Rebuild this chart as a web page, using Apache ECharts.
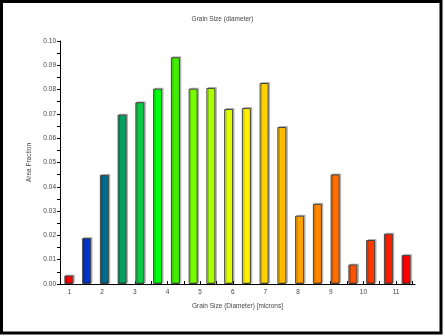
<!DOCTYPE html>
<html>
<head>
<meta charset="utf-8">
<script src="https://cdn.jsdelivr.net/npm/echarts@6/dist/echarts.min.js"></script>
<style>
html,body{margin:0;padding:0;background:#fff;}
#c{width:445px;height:336px;}
</style>
</head>
<body>
<div id="c"></div>
<script>
// Bin labels (approximate bin centres in microns)
var binLabels = ['0.98','1.52','2.07','2.61','3.15','3.70','4.24','4.79','5.33','5.87','6.42','6.96','7.50','8.05','8.59','9.14','9.68','10.22','10.77','11.31'];
// Area fraction per bin
var areaFraction = [0.0035,0.0189,0.0449,0.0697,0.0748,0.0804,0.0933,0.0804,0.0807,0.0720,0.0724,0.0827,0.0646,0.0281,0.0330,0.0451,0.0080,0.0181,0.0207,0.0119];
// Bar colours
var barColors = ['#ff0000','#0033cc','#006b8f','#00a060','#10c848','#00ff10','#44ee00','#77ff00','#aaff00','#ddff00','#ffee00','#ffd200','#ffbb00','#ffa200','#ff8800','#ff6e00','#ff5200','#ff3a00','#ff1e00','#ff0000'];
// X-axis tick labels (microns) and tick positions
var xTickLabels = [1,2,3,4,5,6,7,8,9,10,11];
var xTickMarks = [1,1.5,2,2.5,3,3.5,4,4.5,5,5.5,6,6.5,7,7.5,8,8.5,9,9.5,10,10.5,11,11.5];

var chart = echarts.init(document.getElementById('c'), null, {renderer:'canvas'});
var font = 'Liberation Sans, Arial, sans-serif';
var textColor = '#444';
chart.setOption({
  animation:false,
  backgroundColor:'#fff',
  title:{
    text:'Grain Size (diameter)',
    left:'center', top:11,
    textStyle:{fontSize:6.5, fontWeight:'normal', color:textColor, fontFamily:font}
  },
  graphic:[{
    type:'rect',
    shape:{x:1.5, y:1.5, width:439.5, height:331.5},
    style:{fill:'none', stroke:'#000', lineWidth:3},
    silent:true, z:100
  }],
  grid:{left:60, right:30, top:41, bottom:52, containLabel:false},
  xAxis:[{
    type:'category',
    data:binLabels,
    show:false
  },{
    type:'value',
    min:0.71, max:11.58,
    position:'bottom',
    name:'Grain Size (Diameter) [microns]',
    nameLocation:'middle', nameGap:19,
    nameTextStyle:{fontSize:6.5, color:textColor, fontFamily:font},
    axisLine:{show:true, onZero:false, lineStyle:{color:'#000', width:1}},
    axisTick:{show:true, inside:true, length:3, customValues:xTickMarks, lineStyle:{color:'#000'}},
    axisLabel:{show:true, customValues:xTickLabels, fontSize:6.5, color:textColor, fontFamily:font, margin:5},
    splitLine:{show:false}
  }],
  yAxis:{
    type:'value',
    min:0, max:0.1, interval:0.01,
    name:'Area Fraction',
    nameLocation:'middle', nameGap:25,
    nameTextStyle:{fontSize:6.5, color:textColor, fontFamily:font},
    axisLine:{show:true, lineStyle:{color:'#000', width:1}},
    axisTick:{show:true, length:3, lineStyle:{color:'#000'}},
    minorTick:{show:true, splitNumber:2, length:3, lineStyle:{color:'#000'}},
    axisLabel:{fontSize:6.5, color:textColor, fontFamily:font, margin:4,
      formatter:function(v){return v.toFixed(2);}},
    splitLine:{show:false}
  },
  series:[{
    type:'bar',
    xAxisIndex:0,
    barWidth:9,
    data:areaFraction.map(function(v,i){
      return {value:v, itemStyle:{color:barColors[i]}};
    }),
    itemStyle:{
      borderColor:'#444', borderWidth:1,
      shadowColor:'rgba(0,0,0,0.22)', shadowBlur:0, shadowOffsetX:1.5, shadowOffsetY:-1
    }
  }]
});
</script>
</body>
</html>
